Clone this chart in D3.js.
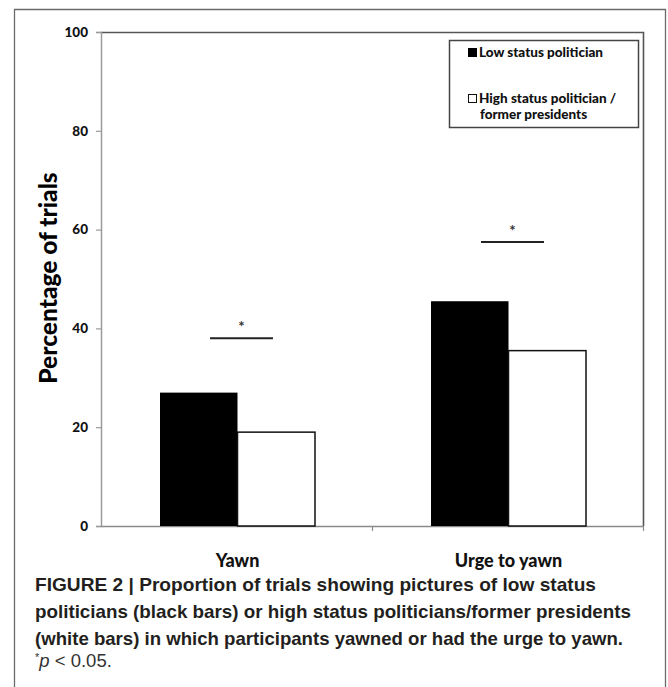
<!DOCTYPE html>
<html>
<head>
<meta charset="utf-8">
<script src="https://cdn.jsdelivr.net/npm/d3@7"></script>
<style>
  html, body { margin: 0; padding: 0; background: #ffffff; }
  svg { display: block; }
</style>
</head>
<body>
<svg id="chart" width="668" height="687"></svg>
<script>
// ---- data ----
const categories = ["Yawn", "Urge to yawn"];
const seriesNames = ["Low status politician", "High status politician / former presidents"];
const lowStatus = [27, 45.5];
const highStatus = [19, 35.5];
const significanceLevels = [38, 57.5];
const yTickValues = [0, 20, 40, 60, 80, 100];
const captionLines = [
  "FIGURE 2 | Proportion of trials showing pictures of low status",
  "politicians (black bars) or high status politicians/former presidents",
  "(white bars) in which participants yawned or had the urge to yawn."
];

const svg = d3.select("#chart");
const W = 668, H = 687;
const plot = { left: 101, right: 643, top: 32, bottom: 526 };
const labelFont = "Lato, 'Open Sans', sans-serif";
const heavy = 900;

// outer figure frame
svg.append("path")
  .attr("d", `M14.5,${H} V9.5 H665.5 V${H}`)
  .attr("fill", "none").attr("stroke", "#6b6b6b").attr("stroke-width", 1.3);

// scales
const x = d3.scaleBand().domain(categories).range([plot.left, plot.right]).padding(0);
const xs = d3.scaleBand().domain(seriesNames).range([59, 214]).padding(0);
const y = d3.scaleLinear().domain([0, 100]).range([plot.bottom, plot.top]);

// plot frame top + right
svg.append("path")
  .attr("d", `M${plot.left},${plot.top + 0.5} H${plot.right + 0.5} V${plot.bottom}`)
  .attr("fill", "none").attr("stroke", "#555").attr("stroke-width", 1.6);

// y axis
const yAxis = svg.append("g")
  .attr("transform", `translate(${plot.left},0)`)
  .call(d3.axisLeft(y).tickValues(yTickValues).tickSize(5).tickPadding(8).tickFormat(d3.format("d")));
yAxis.select(".domain").attr("stroke", "#9a9a9a").attr("stroke-width", 1.5);
yAxis.selectAll(".tick line").attr("stroke", "#9a9a9a").attr("stroke-width", 1.2);
yAxis.selectAll(".tick text")
  .attr("font-family", labelFont).attr("font-weight", heavy)
  .attr("font-size", 13.5).attr("fill", "#111");

// x axis
const xAxis = svg.append("g")
  .attr("transform", `translate(0,${plot.bottom})`)
  .call(d3.axisBottom(x).tickSize(0).tickFormat(""));
xAxis.select(".domain").attr("stroke", "#8a8a8a").attr("stroke-width", 1.6);
xAxis.selectAll(".tick").remove();
// category boundary ticks
const boundaries = categories.slice(1).map(c => x(c)).concat([plot.right]);
svg.append("g").selectAll("line").data(boundaries).join("line")
  .attr("x1", d => d + 0.5).attr("x2", d => d + 0.5)
  .attr("y1", plot.bottom).attr("y2", plot.bottom + 5)
  .attr("stroke", "#8a8a8a").attr("stroke-width", 1.2);

// category labels
svg.append("g").selectAll("text").data(categories).join("text")
  .attr("x", d => x(d) + x.bandwidth() / 2 + 1)
  .attr("y", 567)
  .attr("text-anchor", "middle")
  .attr("font-family", labelFont).attr("font-weight", heavy)
  .attr("font-size", 18).attr("fill", "#111")
  .text(d => d);

// bars
const rows = categories.map((c, i) => ({ cat: c, values: [lowStatus[i], highStatus[i]] }));
const groups = svg.append("g").selectAll("g").data(rows).join("g")
  .attr("transform", d => `translate(${x(d.cat)},0)`);
groups.selectAll("rect").data(d => d.values.map((v, j) => ({ s: seriesNames[j], v, j })))
  .join("rect")
  .attr("x", d => xs(d.s))
  .attr("width", xs.bandwidth())
  .attr("y", d => y(d.v))
  .attr("height", d => y(0) - y(d.v))
  .attr("fill", d => d.j === 0 ? "#000" : "#fff")
  .attr("stroke", d => d.j === 0 ? "none" : "#111")
  .attr("stroke-width", 1.5);

// significance lines and stars
const sig = categories.map((c, i) => ({ cat: c, level: significanceLevels[i] }));
const sigG = svg.append("g");
sigG.selectAll("line").data(sig).join("line")
  .attr("x1", d => x(d.cat) + xs(seriesNames[1]) + 4 - 31.5)
  .attr("x2", d => x(d.cat) + xs(seriesNames[1]) + 4 + 31.5)
  .attr("y1", d => y(d.level)).attr("y2", d => y(d.level))
  .attr("stroke", "#222").attr("stroke-width", 2);
sigG.selectAll("text").data(sig).join("text")
  .attr("x", d => x(d.cat) + xs(seriesNames[1]) + 4)
  .attr("y", d => y(d.level) - 6)
  .attr("text-anchor", "middle")
  .attr("font-family", labelFont).attr("font-weight", "bold").attr("font-size", 15).attr("fill", "#333")
  .text("*");

// legend
const lg = svg.append("g");
lg.append("rect").attr("x", 449.5).attr("y", 40.5).attr("width", 189).attr("height", 87)
  .attr("fill", "#fff").attr("stroke", "#444").attr("stroke-width", 1.5);
lg.append("rect").attr("x", 468).attr("y", 48).attr("width", 9).attr("height", 9).attr("fill", "#000");
lg.append("rect").attr("x", 468.5).attr("y", 94.5).attr("width", 8).attr("height", 8)
  .attr("fill", "#fff").attr("stroke", "#111").attr("stroke-width", 1);
const legendText = [
  { t: seriesNames[0], x: 479, y: 57 },
  { t: "High status politician /", x: 479, y: 103 },
  { t: "former presidents", x: 480, y: 119 }
];
lg.selectAll("text.lt").data(legendText).join("text").attr("class", "lt")
  .attr("x", d => d.x).attr("y", d => d.y)
  .attr("font-family", labelFont).attr("font-weight", heavy)
  .attr("font-size", 13.5).attr("fill", "#111")
  .text(d => d.t);

// y axis title
svg.append("text")
  .attr("transform", `translate(57,278) rotate(-90)`)
  .attr("text-anchor", "middle")
  .attr("font-family", labelFont).attr("font-weight", heavy)
  .attr("font-size", 24.5).attr("fill", "#000")
  .text("Percentage of trials");

// caption
const capFont = "'Liberation Sans', Arial, sans-serif";
const capWidths = [561, 596, 588];
const capY = [591, 618, 645];
captionLines.forEach((t, i) => {
  svg.append("text")
    .attr("x", 35).attr("y", capY[i])
    .attr("font-family", capFont).attr("font-weight", "bold")
    .attr("font-size", 18.5).attr("fill", "#231f20")
    .attr("textLength", capWidths[i]).attr("lengthAdjust", "spacingAndGlyphs")
    .text(t);
});
const pLine = svg.append("text").attr("x", 35).attr("y", 667)
  .attr("font-family", capFont).attr("font-size", 18.5).attr("fill", "#333");
pLine.append("tspan").attr("font-size", 11).attr("dy", -6).text("*");
pLine.append("tspan").attr("font-style", "italic").attr("dy", 6).text("p");
pLine.append("tspan").text(" < 0.05.");
</script>
</body>
</html>
